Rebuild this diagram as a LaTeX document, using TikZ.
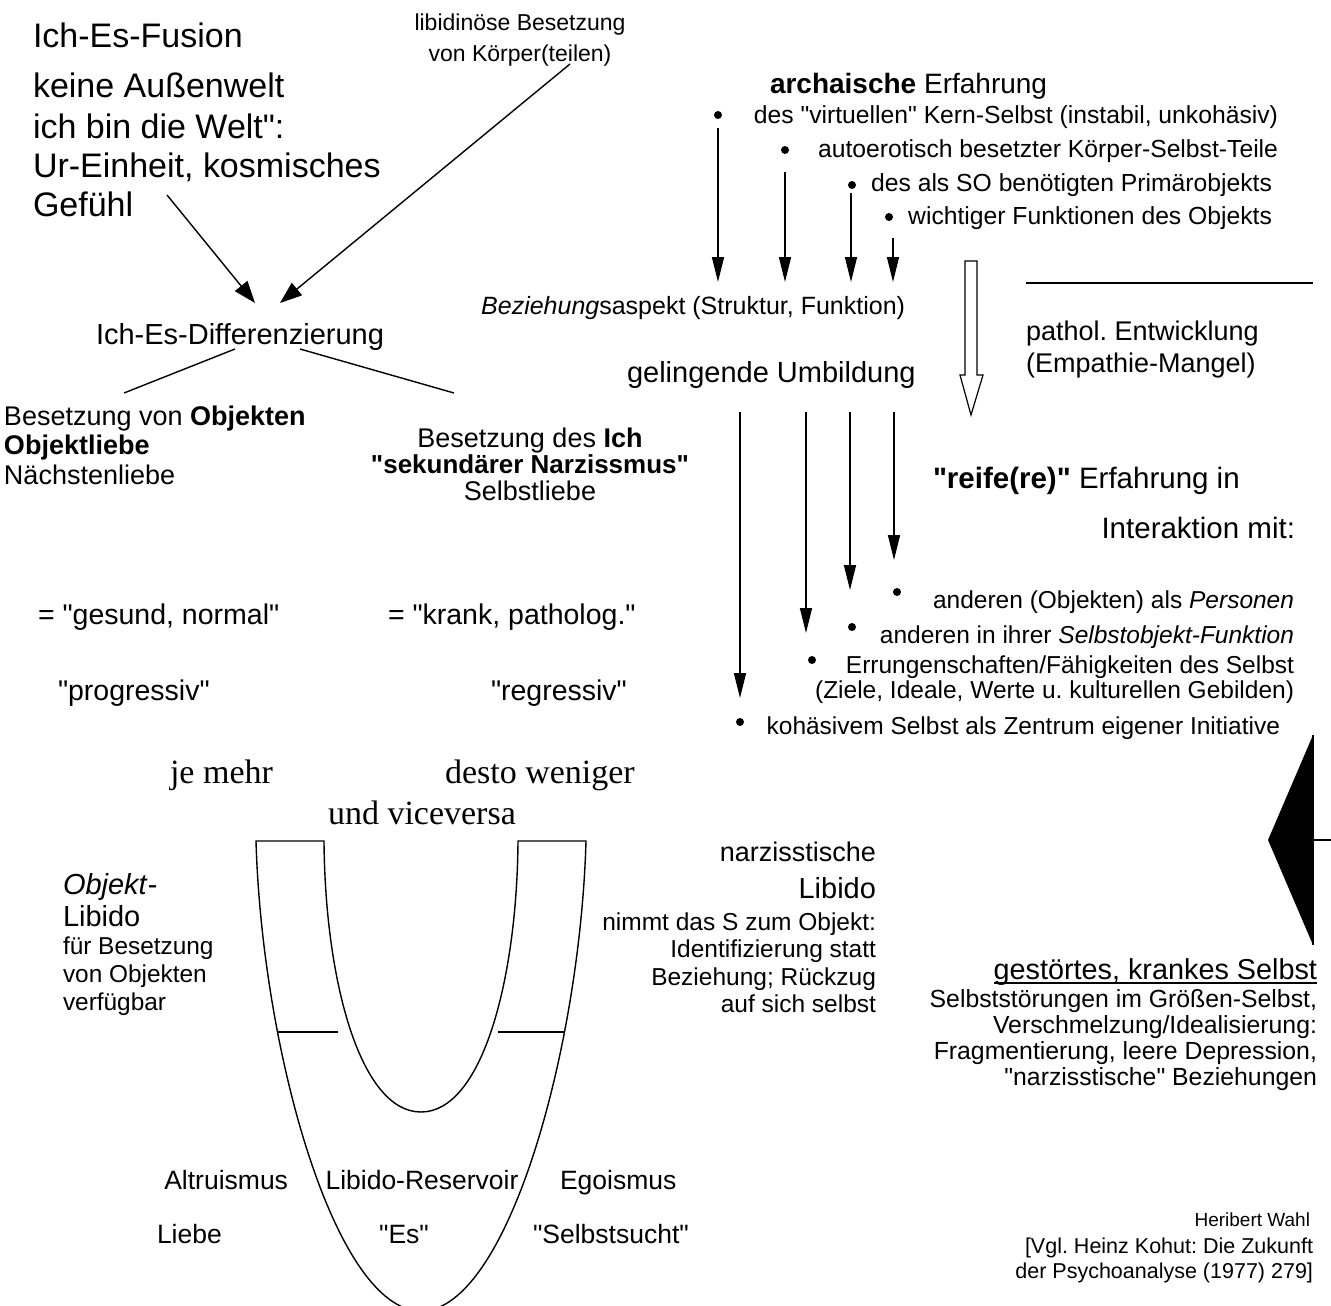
\documentclass[tikz,border=0pt]{standalone}
\usepackage{fontspec}
\setmainfont{Liberation Sans}[Ligatures=TeXOff]
\newfontfamily\serifface{Liberation Serif}[Ligatures=TeXOff]
\usetikzlibrary{arrows.meta}
\newcommand{\fs}[1]{\fontsize{#1}{#1}\selectfont}
\frenchspacing
\begin{document}
\begin{tikzpicture}[x=1pt,y=-1pt,
  lbl/.style={inner sep=0pt, outer sep=0pt},
  bw/.style={lbl, anchor=base west},
  be/.style={lbl, anchor=base east},
  bc/.style={lbl, anchor=base},
  dot/.style={circle, fill=black, inner sep=0pt, minimum size=8pt},
  ln/.style={line width=1.4pt},
  arr/.style={ln, -{Triangle[length=25pt,width=12pt]}},
  darr/.style={ln, -{Triangle[length=22pt,width=16pt]}},
]
\useasboundingbox (0,0) rectangle (1331,1306);
\clip (0,0) rectangle (1331,1306);

% ---------- top left
\node[bw,font=\fs{34}] (fusion) at (33,48) {Ich-Es-Fusion};
\node[bw,font=\fs{34}] (aussen) at (33,98) {keine Außenwelt};
\node[bw,font=\fs{34}] (welt) at (33,138) {ich bin die Welt":};
\node[bw,font=\fs{34}] (einheit) at (33,177) {Ur-Einheit, kosmisches};
\node[bw,font=\fs{34}] (gefuehl) at (33,216) {Gefühl};

\node[bc,font=\fs{23}] (libid) at (520,31) {libidinöse Besetzung};
\node[bc,font=\fs{23}] (koerper) at (520,62) {von Körper(teilen)};

\coordinate (a1s) at (167,195); \coordinate (a1e) at (255,303);
\coordinate (a2s) at (570,64);  \coordinate (a2e) at (280,303);
\draw[darr] (a1s) -- (a1e);
\draw[darr] (a2s) -- (a2e);

\node[bc,font=\fs{29}] (diff) at (240,344) {Ich-Es-Differenzierung};
\coordinate (d1s) at (235,349); \coordinate (d1e) at (124,393);
\coordinate (d2s) at (300,349); \coordinate (d2e) at (454,393);
\draw[ln] (d1s) -- (d1e);
\draw[ln] (d2s) -- (d2e);

\node[bw,font=\fs{27}] (besobj) at (4,425) {Besetzung von \textbf{Objekten}};
\node[bw,font=\fs{27}] (objliebe) at (4,454) {\textbf{Objektliebe}};
\node[bw,font=\fs{27}] (naechst) at (4,484) {Nächstenliebe};

\node[bc,font=\fs{27}] (besich) at (530,447) {Besetzung des \textbf{Ich}};
\node[bc,font=\fs{26}] (sekund) at (530,473) {\textbf{"sekundärer Narzissmus"}};
\node[bc,font=\fs{27}] (selbstl) at (530,500) {Selbstliebe};

\node[bw,font=\fs{28.5}] (gesund) at (38,624) {= "gesund, normal"};
\node[bw,font=\fs{28.5}] (krank) at (388,624) {= "krank, patholog."};
\node[bw,font=\fs{28.5}] (progr) at (58,700) {"progressiv"};
\node[bw,font=\fs{28.5}] (regr) at (491,700) {"regressiv"};

% ---------- top right
\node[bw,font=\fs{28}] (archaisch) at (770,93) {\textbf{archaische} Erfahrung};
\node[be,font=\fs{24.7}] (r1) at (1278,123) {des "virtuellen" Kern-Selbst (instabil, unkohäsiv)};
\node[be,font=\fs{24.7}] (r2) at (1278,157) {autoerotisch besetzter Körper-Selbst-Teile};
\node[be,font=\fs{24.7}] (r3) at (1272,191) {des als SO benötigten Primärobjekts};
\node[be,font=\fs{24.7}] (r4) at (1272,224) {wichtiger Funktionen des Objekts};
\node[dot] (b1) at (718,115) {};
\node[dot] (b2) at (785,150) {};
\node[dot] (b3) at (852,185) {};
\node[dot] (b4) at (889,217) {};
\coordinate (u1s) at (718,128); \coordinate (u1e) at (718,282);
\coordinate (u2s) at (785,172); \coordinate (u2e) at (785,282);
\coordinate (u3s) at (851,193); \coordinate (u3e) at (851,282);
\coordinate (u4s) at (893,238); \coordinate (u4e) at (893,282);
\draw[arr] (u1s) -- (u1e);
\draw[arr] (u2s) -- (u2e);
\draw[arr] (u3s) -- (u3e);
\draw[arr] (u4s) -- (u4e);

\node[be,font=\fs{25}] (bez) at (905,314) {\textit{Beziehung}saspekt (Struktur, Funktion)};
\node[bw,font=\fs{29}] (geling) at (627,382) {gelingende Umbildung};

% hollow arrow
\draw[line width=1.2pt, fill=white] (965,261) -- (977,261) -- (977,375) -- (983,375)
  -- (971,415) -- (960,375) -- (965,375) -- cycle;

\coordinate (hl1) at (1026,283); \coordinate (hl2) at (1313,283);
\draw[ln] (hl1) -- (hl2);
\node[bw,font=\fs{27}] (pathol) at (1026,340) {pathol. Entwicklung};
\node[bw,font=\fs{27}] (empath) at (1026,372) {(Empathie-Mangel)};

\coordinate (l1s) at (740,412); \coordinate (l1e) at (740,698);
\coordinate (l2s) at (806,412); \coordinate (l2e) at (806,633);
\coordinate (l3s) at (850,412); \coordinate (l3e) at (850,590);
\coordinate (l4s) at (894,412); \coordinate (l4e) at (894,560);
\draw[arr] (l1s) -- (l1e);
\draw[arr] (l2s) -- (l2e);
\draw[arr] (l3s) -- (l3e);
\draw[arr] (l4s) -- (l4e);

\node[bw,font=\fs{29.5}] (reife) at (933,488) {\textbf{"reife(re)"} Erfahrung in};
\node[be,font=\fs{29.5}] (interakt) at (1295,538) {Interaktion mit:};

\node[be,font=\fs{24.5}] (s1) at (1294,608) {anderen (Objekten) als \textit{Personen}};
\node[be,font=\fs{24.5}] (s2) at (1294,643) {anderen in ihrer \textit{Selbstobjekt-Funktion}};
\node[be,font=\fs{24.5}] (s3) at (1294,673) {Errungenschaften/Fähigkeiten des Selbst};
\node[be,font=\fs{24.5}] (s4) at (1294,698) {(Ziele, Ideale, Werte u. kulturellen Gebilden)};
\node[be,font=\fs{24.5}] (s5) at (1280,734) {kohäsivem Selbst als Zentrum eigener Initiative};
\node[dot] (c1) at (897,592) {};
\node[dot] (c2) at (852,627) {};
\node[dot] (c3) at (812,660) {};
\node[dot] (c4) at (740,722) {};

% ---------- big black triangle
\fill (1313,735) -- (1268,840) -- (1313,945) -- cycle;
\coordinate (t1) at (1313,735); \coordinate (t2) at (1313,945);
\coordinate (t3) at (1313,840); \coordinate (t4) at (1331,840);
\draw[ln] (t1) -- (t2);
\draw[ln] (t3) -- (t4);

% ---------- je mehr ...
\node[bw,font=\serifface\fs{34}] (jemehr) at (170,783) {je mehr};
\node[bw,font=\serifface\fs{34}] (desto) at (445,783) {desto weniger};
\node[bw,font=\serifface\fs{34}] (vice) at (328,824) {und viceversa};

% ---------- U shape
\draw[ln] (256,841) .. controls (262,1050) and (335,1311) .. (421,1311)
  .. controls (507,1311) and (580,1050) .. (586,841) -- (518,841)
  .. controls (517,980) and (482,1112) .. (421,1112)
  .. controls (360,1112) and (325,980) .. (324,841) -- cycle;
\coordinate (k1) at (278,1032); \coordinate (k2) at (338,1032);
\coordinate (k3) at (498,1032); \coordinate (k4) at (564,1032);
\draw[ln] (k1) -- (k2);
\draw[ln] (k3) -- (k4);

\node[bw,font=\fs{29}] (objekt) at (63,894) {\textit{Objekt}-};
\node[bw,font=\fs{29}] (libl) at (63,926) {Libido};
\node[bw,font=\fs{24.4}] (fuer) at (63,954) {für Besetzung};
\node[bw,font=\fs{24.4}] (vonobj) at (63,982) {von Objekten};
\node[bw,font=\fs{24.4}] (verf) at (63,1010) {verfügbar};

\node[be,font=\fs{27}] (narz) at (876,861) {narzisstische};
\node[be,font=\fs{29}] (libr) at (876,898) {Libido};
\node[be,font=\fs{24.5}] (nimmt) at (876,930) {nimmt das S zum Objekt:};
\node[be,font=\fs{24.5}] (ident) at (876,957) {Identifizierung statt};
\node[be,font=\fs{24.5}] (bezr) at (876,985) {Beziehung; Rückzug};
\node[be,font=\fs{24.5}] (aufsich) at (876,1012) {auf sich selbst};

\node[be,font=\fs{28.8}] (gestoert) at (1317,979) {gestörtes, krankes Selbst};
\draw[line width=1.5pt] ([yshift=-4pt]gestoert.base west) -- ([yshift=-4pt]gestoert.base east);
\node[be,font=\fs{24.8}] (sst1) at (1317,1007) {Selbststörungen im Größen-Selbst,};
\node[be,font=\fs{24.8}] (sst2) at (1317,1033) {Verschmelzung/Idealisierung:};
\node[be,font=\fs{24.8}] (sst3) at (1317,1059) {Fragmentierung, leere Depression,};
\node[be,font=\fs{24.8}] (sst4) at (1317,1085) {"narzisstische" Beziehungen};

\node[be,font=\fs{26.5}] (altru) at (288,1189) {Altruismus};
\node[bc,font=\fs{26.5}] (reserv) at (422,1189) {Libido-Reservoir};
\node[bw,font=\fs{26.5}] (ego) at (560,1189) {Egoismus};
\node[bw,font=\fs{26.5}] (liebe) at (157,1243) {Liebe};
\node[bc,font=\fs{26.5}] (es) at (404,1243) {"Es"};
\node[bw,font=\fs{26.5}] (sucht) at (533,1243) {"Selbstsucht"};

\node[be,font=\fs{19}] (wahl) at (1310,1226) {Heribert Wahl};
\node[be,font=\fs{21.5}] (vgl) at (1313,1253) {[Vgl. Heinz Kohut: Die Zukunft};
\node[be,font=\fs{21.5}] (psa) at (1313,1278) {der Psychoanalyse (1977) 279]};
\end{tikzpicture}
\end{document}
